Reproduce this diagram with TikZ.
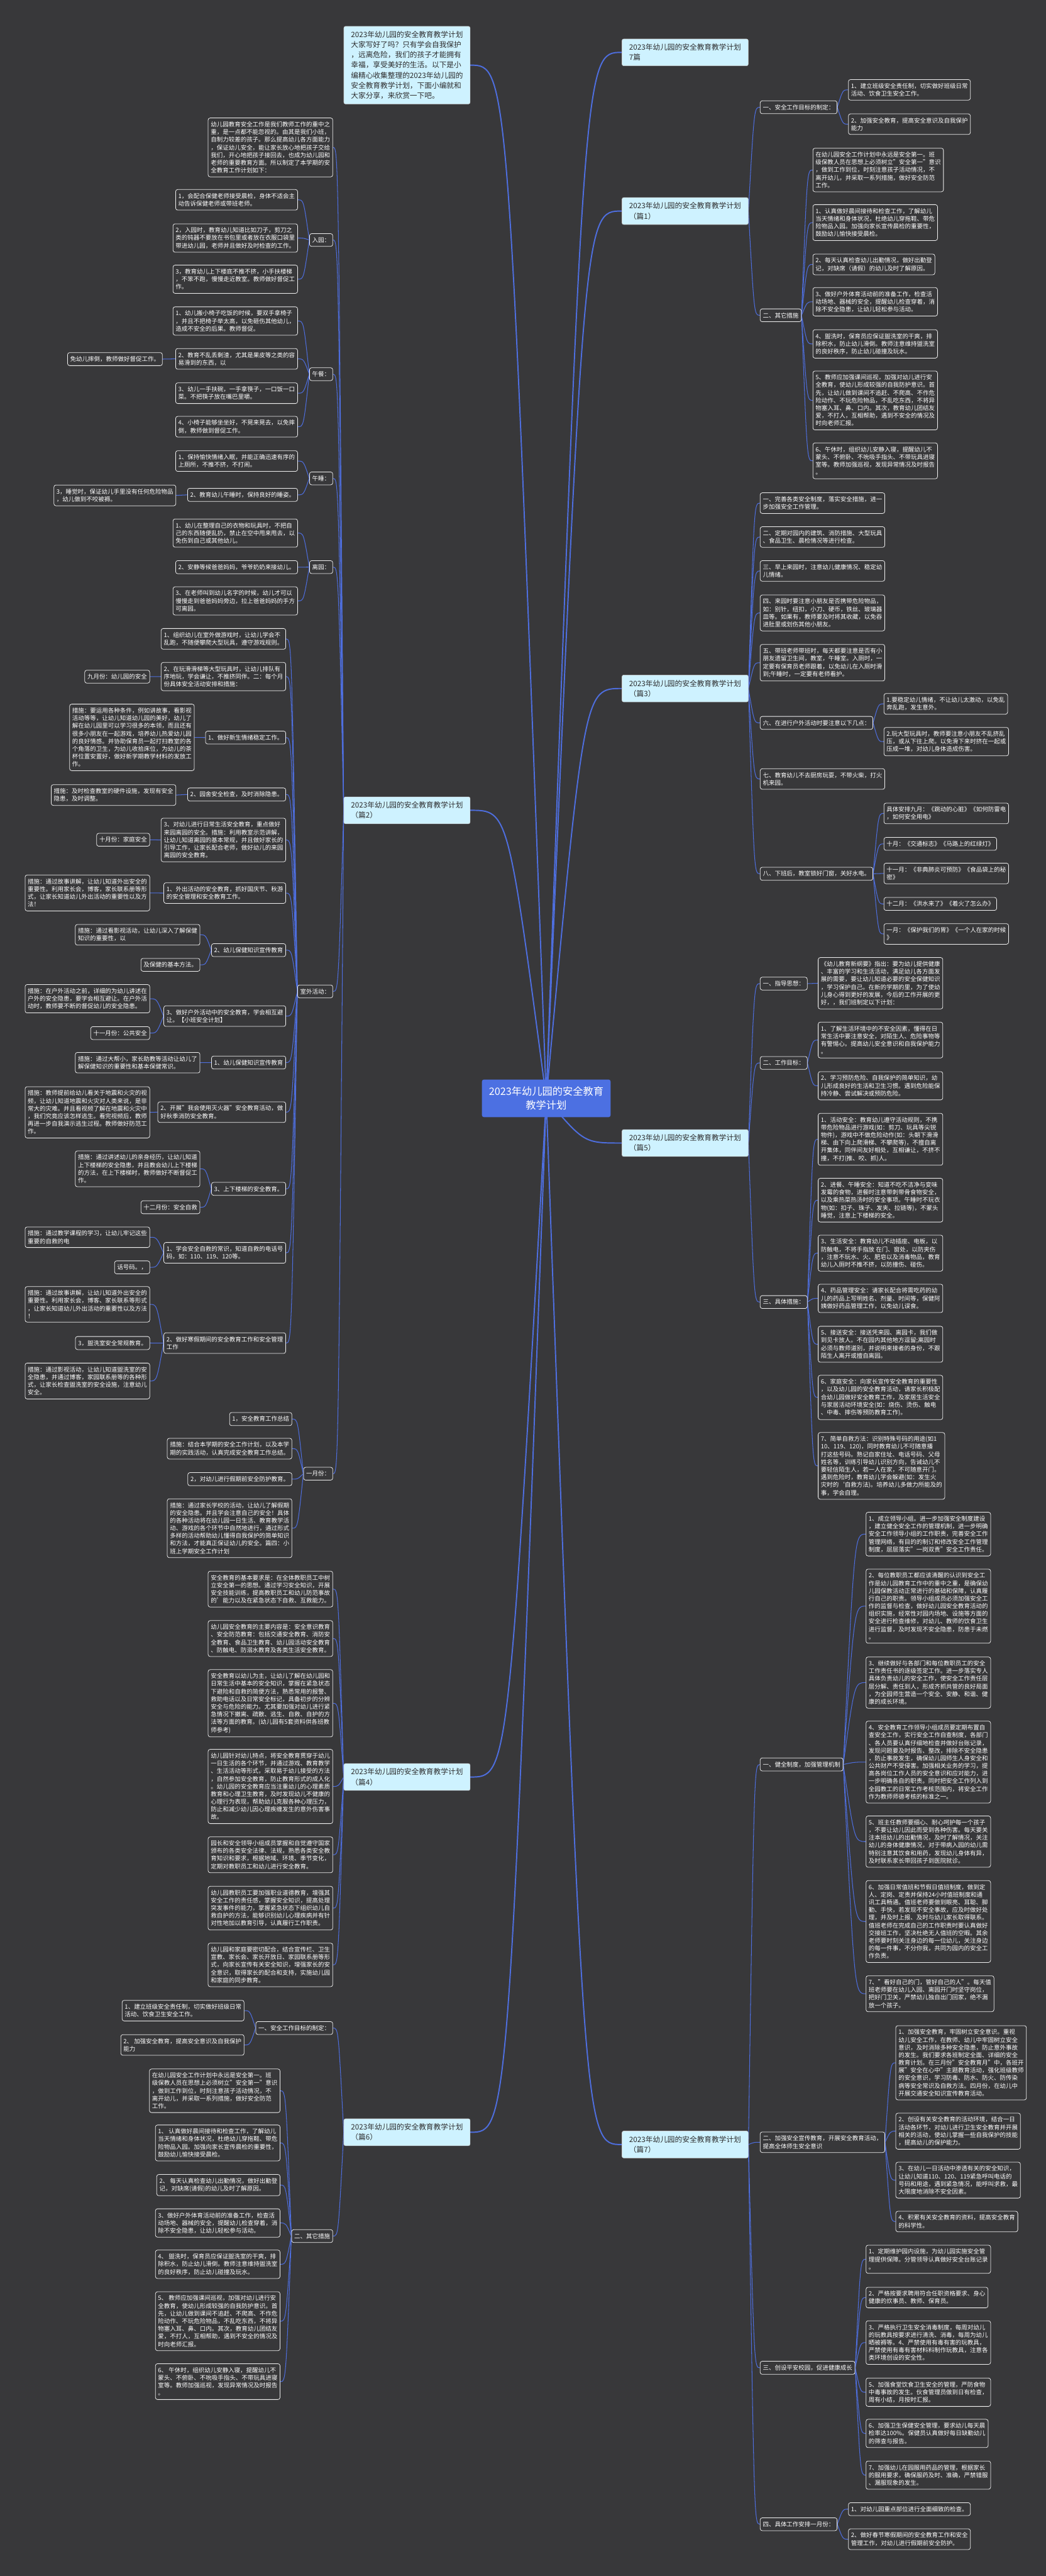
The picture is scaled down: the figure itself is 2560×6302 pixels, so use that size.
\documentclass[tikz,border=0pt]{standalone}
\usepackage{fontspec}
\setmainfont{Noto Sans CJK SC}
\usetikzlibrary{calc,backgrounds}
\definecolor{bgc}{RGB}{56,56,58}
\definecolor{lnc}{RGB}{78,110,222}
\definecolor{rootc}{RGB}{76,112,226}
\definecolor{pianc}{RGB}{206,242,255}
\definecolor{piant}{RGB}{45,45,45}
\begin{document}
\begin{tikzpicture}[x=0.5pt, y=-0.5pt,
        root/.style={fill=rootc, text=white, rounded corners=2.5pt, align=center,
                     font=\fontsize{12.5}{16.75}\selectfont, minimum width=157.5pt, minimum height=46pt},
        pian/.style={fill=pianc, draw=white!60!gray, line width=0.4pt, text=piant, rounded corners=2pt,
                     align=left, font=\fontsize{9}{12.4}\selectfont, inner xsep=4.5pt, inner ysep=6pt,
                     minimum width=154.5pt},
        leaf/.style={draw=white!88!gray, line width=0.6pt, fill=bgc, text=white, rounded corners=2.5pt,
                     align=left, font=\fontsize{7.3}{9.375}\selectfont, inner xsep=3.25pt, inner ysep=4.5pt},
        rl/.style={leaf, anchor=north west},
        ll/.style={leaf, anchor=north east},
        trunk/.style={lnc, line width=1.5pt},
        lk/.style={lnc, line width=0.8pt}
    ]
    \useasboundingbox (0,0) rectangle (2560,6302);

    % 中心主题
    \node[root] (plan) at (1337,2687) {2023年幼儿园的安全教育\\教学计划};

    % 第一层
    \node[pian, anchor=north east] (intro) at (1151,64) {2023年幼儿园的安全教育教学计划\\大家写好了吗？只有学会自我保护\\，远离危险，我们的孩子才能拥有\\幸福，享受美好的生活。以下是小\\编精心收集整理的2023年幼儿园的\\安全教育教学计划，下面小编就和\\大家分享，来欣赏一下吧。};
    \node[pian, anchor=north west] (total) at (1522,95) {2023年幼儿园的安全教育教学计划\\7篇};
    \node[pian, anchor=north west] (p1) at (1522,483) {2023年幼儿园的安全教育教学计划\\（篇1）};
    \node[pian, anchor=north east] (p2) at (1151,1949) {2023年幼儿园的安全教育教学计划\\（篇2）};
    \node[pian, anchor=north west] (p3) at (1522,1651) {2023年幼儿园的安全教育教学计划\\（篇3）};
    \node[pian, anchor=north east] (p4) at (1151,4314) {2023年幼儿园的安全教育教学计划\\（篇4）};
    \node[pian, anchor=north west] (p5) at (1522,2763) {2023年幼儿园的安全教育教学计划\\（篇5）};
    \node[pian, anchor=north east] (p6) at (1151,5183) {2023年幼儿园的安全教育教学计划\\（篇6）};
    \node[pian, anchor=north west] (p7) at (1522,5213) {2023年幼儿园的安全教育教学计划\\（篇7）};

    % 篇1
    \node[rl] (p1g) at (1860,246) {一、安全工作目标的制定：};
    \node[rl] (p1g1) at (2076,194) {1、建立班级安全责任制，切实做好班级日常\\活动、饮食卫生安全工作。};
    \node[rl] (p1g2) at (2076,278) {2、加强安全教育，提高安全意识及自我保护\\能力};
    \node[rl] (p1m) at (1860,755) {二、其它措施};
    \node[rl] (p1m0) at (1989,362) {在幼儿园安全工作计划中永远是安全第一。班\\级保教人员在思想上必须树立"安全第一"意识\\，做到工作到位，时刻注意孩子活动情况，不\\离开幼儿，并采取一系列措施，做好安全防范\\工作。};
    \node[rl] (p1m1) at (1989,500) {1、认真做好晨间接待和检查工作，了解幼儿\\当天情绪和身体状况，杜绝幼儿穿拖鞋、带危\\险物品入园。加强向家长宣传晨检的重要性，\\鼓励幼儿愉快接受晨检。};
    \node[rl] (p1m2) at (1989,621) {2、每天认真检查幼儿出勤情况，做好出勤登\\记，对缺席（请假）的幼儿及时了解原因。};
    \node[rl] (p1m3) at (1989,703) {3、做好户外体育活动前的准备工作，检查活\\动场地、器械的安全，提醒幼儿检查穿着，消\\除不安全隐患，让幼儿轻松参与活动。};
    \node[rl] (p1m4) at (1989,806) {4、盥洗时，保育员应保证盥洗室的干爽，排\\除积水，防止幼儿滑倒。教师注意维持盥洗室\\的良好秩序，防止幼儿碰撞及玩水。};
    \node[rl] (p1m5) at (1989,907) {5、教师应加强课间巡视，加强对幼儿进行安\\全教育，使幼儿形成较强的自我防护意识。首\\先，让幼儿做到课间不追赶、不爬高、不作危\\险动作、不玩危险物品，不乱吃东西，不将异\\物塞入耳、鼻、口内。其次，教育幼儿团结友\\爱，不打人，互相帮助，遇到不安全的情况及\\时向老师汇报。};
    \node[rl] (p1m6) at (1989,1083) {6、午休时，组织幼儿安静入寝，提醒幼儿不\\蒙头、不俯卧、不吮吸手指头、不带玩具进寝\\室等。教师加强巡视，发现异常情况及时报告\\。};

    % 篇2
    \node[ll] (p2a) at (815,288) {幼儿园教育安全工作是我们教师工作的重中之\\重，是一点都不能忽视的。由其是我们小班，\\自制力较差的孩子。那么提高幼儿各方面能力\\，保证幼儿安全，能让家长放心地把孩子交给\\我们，开心地把孩子接回去，也成为幼儿园和\\老师的重要教育方面。所以制定了本学期的安\\全教育工作计划如下：};
    \node[ll] (p2b) at (815,571) {入园：};
    \node[ll] (p2b1) at (729,463) {1，会配合保健老师接受晨检，身体不适会主\\动告诉保健老师或带班老师。};
    \node[ll] (p2b2) at (729,547) {2，入园时，教育幼儿知道比如刀子，剪刀之\\类的钝器不要放在书包里或者放在衣服口袋里\\带进幼儿园，老师并且做好及时检查的工作。};
    \node[ll] (p2b3) at (729,648) {3，教育幼儿上下楼底不推不挤，小手扶楼梯\\，不笨不跑，慢慢走近教室。教师做好督促工\\作。};
    \node[ll] (p2c) at (815,899) {午餐：};
    \node[ll] (p2c1) at (729,750) {1、幼儿搬小椅子吃饭的时候，要双手拿椅子\\，并且不把椅子举太高，以免砸伤其他幼儿，\\造成不安全的后果。教师督促。};
    \node[ll] (p2c2) at (729,852) {2、教育不乱丢剩渣，尤其是果皮等之类的容\\易滑到的东西，以};
    \node[ll] (p2c2x) at (398,862) {免幼儿摔倒，教师做好督促工作。};
    \node[ll] (p2c3) at (729,936) {3、幼儿一手扶碗，一手拿筷子，一口饭一口\\菜。不把筷子放在嘴巴里嚼。};
    \node[ll] (p2c4) at (729,1018) {4、小椅子能够坐坐好，不晃来晃去，以免摔\\倒，教师做到督促工作。};
    \node[ll] (p2d) at (815,1154) {午睡：};
    \node[ll] (p2d1) at (729,1102) {1、保持愉快情绪入眠，并能正确迅速有序的\\上厕所，不推不挤，不打闹。};
    \node[ll] (p2d2) at (729,1194) {2、教育幼儿午睡时，保持良好的睡姿。};
    \node[ll] (p2d2x) at (431,1186) {3，睡觉时，保证幼儿手里没有任何危险物品\\，幼儿做到不咬被褥。};
    \node[ll] (p2e) at (815,1371) {离园：};
    \node[ll] (p2e1) at (729,1269) {1、幼儿在整理自己的衣物和玩具时，不把自\\己的东西随便乱扔，禁止在空中甩来甩去，以\\免伤到自己或其他幼儿。};
    \node[ll] (p2e2) at (729,1371) {2、安静等候爸爸妈妈，爷爷奶奶来接幼儿。};
    \node[ll] (p2e3) at (729,1435) {3、在老师叫到幼儿名字的时候，幼儿才可以\\慢慢走到爸爸妈妈旁边，拉上爸爸妈妈的手方\\可离园。};
    \node[ll] (p2f) at (815,2409) {室外活动：};
    \node[ll] (f1) at (700,1537) {1、组织幼儿在室外做游戏时，让幼儿学会不\\乱跑，不随便攀爬大型玩具，遵守游戏规则。};
    \node[ll] (f2) at (700,1620) {2、在玩滑滑梯等大型玩具时，让幼儿排队有\\序地玩，学会谦让，不推挤同伴。二：每个月\\份具体安全活动安排和措施：};
    \node[ll] (f2x) at (367,1639) {九月份：幼儿园的安全};
    \node[ll] (f3) at (700,1788) {1、做好新生情绪稳定工作。};
    \node[ll] (f3x) at (476,1722) {措施：要运用各种条件，例如讲故事，看影视\\活动等等，让幼儿知道幼儿园的美好，幼儿了\\解在幼儿园里可以学习很多的本领，而且还有\\很多小朋友在一起游戏，培养幼儿热爱幼儿园\\的良好情感。并协助保育员一起打扫教室的各\\个角落的卫生，为幼儿收拾床位，为幼儿的茶\\杯位置安置好，做好新学期教学材料的发放工\\作。};
    \node[ll] (f4) at (700,1927) {2、园舍安全检查，及时消除隐患。};
    \node[ll] (f4x) at (431,1919) {措施：及时检查教室的硬件设施，发现有安全\\隐患，及时调整。};
    \node[ll] (f5) at (700,2001) {3、对幼儿进行日常生活安全教育，重点做好\\来园离园的安全。措施：利用教室示范讲解，\\让幼儿知道离园的基本常规，并且做好家长的\\引导工作，让家长配合老师，做好幼儿的来园\\离园的安全教育。};
    \node[ll] (f5x) at (367,2038) {十月份：家庭安全};
    \node[ll] (f6) at (700,2159) {1、外出活动的安全教育，抓好国庆节、秋游\\的安全管理和安全教育工作。};
    \node[ll] (f6x) at (367,2140) {措施：通过故事讲解，让幼儿知道外出安全的\\重要性。利用家长会，博客，家长联系册等形\\式，让家长知道幼儿外出活动的重要性以及方\\法！};
    \node[ll] (f7) at (700,2308) {2、幼儿保健知识宣传教育};
    \node[ll] (f7x) at (490,2261) {措施：通过看影视活动，让幼儿深入了解保健\\知识的重要性，以};
    \node[ll] (f7y) at (490,2344) {及保健的基本方法。};
    \node[ll] (f8) at (700,2460) {3、做好户外活动中的安全教育，学会相互避\\让。【小班安全计划】};
    \node[ll] (f8x) at (367,2408) {措施：在户外活动之前，详细的为幼儿讲述在\\户外的安全隐患，要学会相互避让。在户外活\\动时，教师要不断的督促幼儿的安全隐患。};
    \node[ll] (f8y) at (367,2511) {十一月份：公共安全};
    \node[ll] (f9) at (700,2583) {1、幼儿保健知识宣传教育};
    \node[ll] (f9x) at (490,2574) {措施：通过大帮小，家长助教等活动让幼儿了\\解保健知识的重要性和基本保健常识。};
    \node[ll] (f10) at (700,2695) {2、开展"我会使用灭火器"安全教育活动，做\\好秋季消防安全教育。};
    \node[ll] (f10x) at (367,2658) {措施：教师提前给幼儿看关于地震和火灾的视\\频，让幼儿知道地震和火灾对人类来说，是非\\常大的灾难。并且看视频了解在地震和火灾中\\，我们究竟应该怎样逃生。看完视频后，教师\\再进一步自我演示逃生过程。教师做好防范工\\作。};
    \node[ll] (f11) at (700,2892) {3、上下楼梯的安全教育。};
    \node[ll] (f11x) at (490,2815) {措施：通过讲述幼儿的亲身经历，让幼儿知道\\上下楼梯的安全隐患，并且教会幼儿上下楼梯\\的方法，在上下楼梯时，教师做好不断督促工\\作。};
    \node[ll] (f11y) at (490,2937) {十二月份：安全自救};
    \node[ll] (f12) at (700,3039) {1、学会安全自救的常识，知道自救的电话号\\码，如：110、119、120等。};
    \node[ll] (f12x) at (367,3001) {措施：通过教学课程的学习，让幼儿牢记这些\\重要的自救的电};
    \node[ll] (f12y) at (367,3084) {话号码。，};
    \node[ll] (f13) at (700,3260) {2、做好寒假期间的安全教育工作和安全管理\\工作};
    \node[ll] (f13x) at (367,3147) {措施：通过故事讲解，让幼儿知道外出安全的\\重要性。利用家长会，博客、家长联系等形式\\，让家长知道幼儿外出活动的重要性以及方法\\！};
    \node[ll] (f13y) at (367,3269) {3，盥洗室安全常规教育。};
    \node[ll] (f13z) at (367,3334) {措施：通过影视活动，让幼儿知道盥洗室的安\\全隐患，并通过博客，家园联系册等的各种形\\式，让家长检查盥洗室的安全设施，注意幼儿\\安全。};
    \node[ll] (p2g) at (815,3589) {一月份：};
    \node[ll] (g1) at (715,3455) {1，安全教育工作总结};
    \node[ll] (g2) at (715,3518) {措施：结合本学期的安全工作计划，以及本学\\期的实践活动，认真完成安全教育工作总结。};
    \node[ll] (g3) at (715,3602) {2，对幼儿进行假期前安全防护教育。};
    \node[ll] (g4) at (715,3666) {措施：通过家长学校的活动，让幼儿了解假期\\的安全隐患。并且学会注意自己的安全！具体\\的各种活动将在幼儿园一日生活、教育教学活\\动、游戏的各个环节中自然地进行，通过形式\\多样的活动帮助幼儿懂得自我保护的简单知识\\和方法，才能真正保证幼儿的安全。篇四：小\\班上学期安全工作计划};

    % 篇3
    \node[rl] (p3a) at (1860,1205) {一、完善各类安全制度，落实安全措施，进一\\步加强安全工作管理。};
    \node[rl] (p3b) at (1860,1288) {二、定期对园内的建筑、消防措施、大型玩具\\、食品卫生、晨检情况等进行检查。};
    \node[rl] (p3c) at (1860,1371) {三、早上来园时，注意幼儿健康情况、稳定幼\\儿情绪。};
    \node[rl] (p3d) at (1860,1455) {四、来园时要注意小朋友是否携带危险物品，\\如：别针，纽扣，小刀、硬币，铁丝、玻璃器\\皿等。如果有，教师要及时将其收藏，以免吞\\进肚里或划伤其他小朋友。};
    \node[rl] (p3e) at (1860,1576) {五、带班老师带班时，每天都要注意是否有小\\朋友遗留卫生间，教室，午睡室。入厕时，一\\定要有保育员老师跟着，以免幼儿在入厕时滑\\到;午睡时，一定要有老师看护。};
    \node[rl] (p3f) at (1860,1752) {六、在进行户外活动时要注意以下几点：};
    \node[rl] (p3f1) at (2163,1696) {1.要稳定幼儿情绪，不让幼儿太激动，以免乱\\奔乱跑，发生意外。};
    \node[rl] (p3f2) at (2163,1779) {2.玩大型玩具时，教师要注意小朋友不乱挤乱\\压，或从下往上爬。以免滑下来时挤在一起或\\压成一堆，对幼儿身体造成伤害。};
    \node[rl] (p3g) at (1860,1880) {七、教育幼儿不去厨房玩耍，不带火柴，打火\\机来园。};
    \node[rl] (p3h) at (1860,2121) {八、下班后，教室锁好门窗，关好水电。};
    \node[rl] (p3h1) at (2163,1964) {具体安排九月：《跳动的心脏》《如何防雷电\\，如何安全用电》};
    \node[rl] (p3h2) at (2163,2048) {十月：《交通标志》《马路上的红绿灯》};
    \node[rl] (p3h3) at (2163,2111) {十一月：《非典肺炎可预防》《食品袋上的秘\\密》};
    \node[rl] (p3h4) at (2163,2195) {十二月：《洪水来了》《着火了怎么办》};
    \node[rl] (p3h5) at (2163,2259) {一月：《保护我们的胃》《一个人在家的时候\\》};

    % 篇4
    \node[ll] (p4a) at (815,3843) {安全教育的基本要求是：在全体教职员工中树\\立安全第一的思想。通过学习安全知识，开展\\安全技能训练，提高教职员工和幼儿防范事故\\的'能力以及在紧急状态下自救、互救能力。};
    \node[ll] (p4b) at (815,3964) {幼儿园安全教育的主要内容是：安全意识教育\\、安全防范教育：包括交通安全教育、消防安\\全教育、食品卫生教育、幼儿园活动安全教育\\、防触电、防溺水教育及各类生活安全教育。};
    \node[ll] (p4c) at (815,4084) {安全教育以幼儿为主，让幼儿了解在幼儿园和\\日常生活中基本的安全知识，掌握在紧急状态\\下避险和自救的简便方法，熟悉常用的报警、\\救助电话以及日常安全标记，具备初步的分辨\\安全与危险的能力。尤其要加强对幼儿进行紧\\急情况下撤离、疏散、逃生、自救、自护的方\\法等方面的教育。(幼儿园有5套资料供各班教\\师参考)};
    \node[ll] (p4d) at (815,4279) {幼儿园针对幼儿特点，将安全教育贯穿于幼儿\\一日生活的各个环节，并通过游戏、教育教学\\、生活活动等形式，采取易于幼儿接受的方法\\，自然参加安全教育，防止教育形式的成人化\\。幼儿园的安全教育应当注重幼儿的心理素质\\教育和心理卫生教育，及时发现幼儿不健康的\\心理行为表现，帮助幼儿克服各种心理压力，\\防止和减少幼儿因心理疾缠发生的意外伤害事\\故。};
    \node[ll] (p4e) at (815,4493) {园长和安全领导小组成员掌握和自觉遵守国家\\颁布的各类安全法律、法规，熟悉各类安全教\\育知识和要求，根据地域、环境、季节变化，\\定期对教职员工和幼儿进行安全教育。};
    \node[ll] (p4f) at (815,4614) {幼儿园教职员工要加强职业道德教育，增强其\\安全工作的责任感，掌握安全知识，提高处理\\突发事件的能力，掌握紧急状态下组织幼儿自\\救自护的方法，能够识别幼儿心理疾病并有针\\对性地加以教育引导，认真履行工作职责。};
    \node[ll] (p4g) at (815,4753) {幼儿园和家庭要密切配合，结合宣传栏、卫生\\宣教、家长会、家长开放日、家园联系册等形\\式，向家长宣传有关安全知识，增强家长的安\\全意识，取得家长的配合和支持，实施幼儿园\\和家庭的同步教育。};

    % 篇5
    \node[rl] (p5a) at (1860,2390) {一、指导思想：};
    \node[rl] (p5a1) at (2002,2342) {《幼儿教育新纲要》指出：要为幼儿提供健康\\、丰富的学习和生活活动，满足幼儿各方面发\\展的需要，要让幼儿知道必要的安全保健知识\\，学习保护自己。在新的学期的里，为了使幼\\儿身心得到更好的发展，今后的工作开展的更\\好，，我们班制定以下计划：};
    \node[rl] (p5b) at (1860,2584) {二、工作目标：};
    \node[rl] (p5b1) at (2002,2500) {1、了解生活环境中的不安全因素，懂得在日\\常生活中要注意安全，对陌生人、危险事物等\\有警惕心。提高幼儿安全意识和自我保护能力\\。};
    \node[rl] (p5b2) at (2002,2621) {2、学习预防危险、自我保护的简单知识，幼\\儿形成良好的生活和卫生习惯。遇到危险能保\\持冷静、尝试解决或预防危险。};
    \node[rl] (p5c) at (1860,3169) {三、具体措施：};
    \node[rl] (p5c1) at (2002,2723) {1、活动安全：教育幼儿遵守活动规则，不携\\带危险物品进行游戏(如：剪刀、玩具等尖锐\\物件)，游戏中不做危险动作(如：头朝下滑滑\\梯、由下向上爬滑梯、不攀爬等)，不擅自离\\开集体，同伴间友好相处，互相谦让，不挤不\\撞，不打(推、咬、抓)人。};
    \node[rl] (p5c2) at (2002,2882) {2、进餐、午睡安全：知道不吃不洁净与变味\\发霉的食物，进餐时注意带刺带骨食物安全，\\以及乘热菜热汤时的安全事项。午睡时不玩衣\\物(如：扣子、珠子、发夹、拉链等)，不蒙头\\睡觉，注意上下楼梯的安全。};
    \node[rl] (p5c3) at (2002,3021) {3、生活安全：教育幼儿不动插座、电板，以\\防触电，不将手指放 在门、窗处，以防夹伤\\，注意不玩水、火、肥皂以及消毒物品，教育\\幼儿入厕时不推不挤，以防撞伤、碰伤。};
    \node[rl] (p5c4) at (2002,3141) {4、药品管理安全：请家长配合将需吃药的幼\\儿的药品上写明姓名、剂量、时间等，保健阿\\姨做好药品管理工作，以免幼儿误食。};
    \node[rl] (p5c5) at (2002,3244) {5、接送安全：接送凭来园、离园卡，我们做\\到见卡放人。不在园内其他地方逗留;离园时\\必须与教师道别，并说明来接者的身份，不跟\\陌生人离开或擅自离园。};
    \node[rl] (p5c6) at (2002,3364) {6、家庭安全：向家长宣传安全教育的重要性\\，以及幼儿园的安全教育活动，请家长积极配\\合幼儿园做好安全教育工作，及家居生活安全\\与家居活动环境安全(如：烧伤、烫伤、触电\\、中毒、摔伤等预防教育工作)。};
    \node[rl] (p5c7) at (2002,3504) {7、简单自救方法：识别特殊号码的用途(如1\\10、119、120)，同时教育幼儿不可随意播\\打这些号码。熟记自家住址、电话号码、父母\\姓名等，训练引导幼儿识别方向，告诫幼儿不\\要轻信陌生人，若一人在家，不可随意开门。\\遇到危险时，教育幼儿学会躲避(如：发生火\\灾时的`自救方法)。培养幼儿多做力所能及的\\事，学会自理。};

    % 篇6
    \node[ll] (p6a) at (815,4945) {一、安全工作目标的制定：};
    \node[ll] (p6a1) at (598,4893) {1、建立班级安全责任制，切实做好班级日常\\活动、饮食卫生安全工作。};
    \node[ll] (p6a2) at (598,4977) {2、 加强安全教育，提高安全意识及自我保护\\能力};
    \node[ll] (p6b) at (815,5454) {二、其它措施};
    \node[ll] (p6b0) at (686,5061) {在幼儿园安全工作计划中永远是安全第一。班\\级保教人员在思想上必须树立"安全第一"意识\\，做到工作到位，时刻注意孩子活动情况，不\\离开幼儿，并采取一系列措施，做好安全防范\\工作。};
    \node[ll] (p6b1) at (686,5198) {1、 认真做好晨间接待和检查工作，了解幼儿\\当天情绪和身体状况，杜绝幼儿穿拖鞋、带危\\险物品入园。加强向家长宣传晨检的重要性，\\鼓励幼儿愉快接受晨检。};
    \node[ll] (p6b2) at (686,5319) {2、 每天认真检查幼儿出勤情况，做好出勤登\\记，对缺席(请假)的幼儿及时了解原因。};
    \node[ll] (p6b3) at (686,5403) {3、做好户外体育活动前的准备工作，检查活\\动场地、器械的安全，提醒幼儿检查穿着，消\\除不安全隐患，让幼儿轻松参与活动。};
    \node[ll] (p6b4) at (686,5504) {4、 盥洗时，保育员应保证盥洗室的干爽，排\\除积水，防止幼儿滑倒。教师注意维持盥洗室\\的良好秩序，防止幼儿碰撞及玩水。};
    \node[ll] (p6b5) at (686,5606) {5、 教师应加强课间巡视，加强对幼儿进行安\\全教育，使幼儿形成较强的自我防护意识。首\\先，让幼儿做到课间不追赶、不爬高、不作危\\险动作、不玩危险物品，不乱吃东西，不将异\\物塞入耳、鼻、口内。其次，教育幼儿团结友\\爱，不打人，互相帮助，遇到不安全的情况及\\时向老师汇报。};
    \node[ll] (p6b6) at (686,5782) {6、 午休时，组织幼儿安静入寝，提醒幼儿不\\蒙头、不俯卧、不吮吸手指头、不带玩具进寝\\室等。教师加强巡视，发现异常情况及时报告\\。};

    % 篇7
    \node[rl] (p7a) at (1860,4300) {一、健全制度，加强管理机制};
    \node[rl] (p7a1) at (2119,3699) {1、成立领导小组。进一步加强安全制度建设\\，建立健全安全工作的管理机制，进一步明确\\安全工作领导小组的工作职责，完善安全工作\\管理网络，有目的的制订和修改安全工作管理\\制度，层层落实"一岗双责"安全工作责任。};
    \node[rl] (p7a2) at (2119,3838) {2、每位教职员工都应该清醒的认识到安全工\\作是幼儿园教育工作中的重中之重，是确保幼\\儿园保教活动正常进行的基础和保障，认真履\\行自己的职责。领导小组成员必须加强安全工\\作的监督与检查，做好幼儿园安全教育活动的\\组织实施，经常性对园内场地、设施等方面的\\安全进行检查维修，对幼儿、教师的饮食卫生\\进行监督，及时发现不安全隐患，防患于未燃\\。};
    \node[rl] (p7a3) at (2119,4053) {3、继续做好与各部门和每位教职员工的安全\\工作责任书的逐级签定工作。进一步落实专人\\具体负责幼儿的安全工作，使安全工作责任层\\层分解、责任到人，形成齐抓共管的良好局面\\，为全园师生营造一个安全、安静、和谐、健\\康的成长环境。};
    \node[rl] (p7a4) at (2119,4210) {4、安全教育工作领导小组成员要定期布置自\\查安全工作，实行安全工作自查制度，各部门\\、各人员要认真仔细地检查并做好台账记录，\\发现问题要及时报告、整改，排除不安全隐患\\，防止事故发生，确保幼儿园师生人身安全和\\公共财产不受侵害。加强相关业务的学习，提\\高各岗位工作人员的安全意识和应对能力，进\\一步明确各自的职责。同时把安全工作列入到\\全园教工的日常工作考核范围内，将安全工作\\作为教师师德考核的标准之一。};
    \node[rl] (p7a5) at (2119,4442) {5、班主任教师要细心、耐心呵护每一个孩子\\，不要让幼儿因此而受到各种伤害。每天要关\\注本班幼儿的出勤情况，及时了解情况，关注\\幼儿的身体健康情况，对于带病入园的幼儿需\\特别注意其饮食和用药，发现幼儿身体有异，\\及时联系家长带回孩子到医院就诊。};
    \node[rl] (p7a6) at (2119,4600) {6、加强日常值班和节假日值班制度，做到定\\人、定岗、定责并保持24小时值班制度和通\\讯工具畅通。值班老师要做到眼亮、耳聪、脚\\勤、手快，若发现不安全事故，应及时做好处\\理，并及时上报、及时与幼儿家长取得联系。\\值班老师在完成自己的工作职责时要认真做好\\交接班工作，坚决杜绝无人值班的空暇。其余\\老师要时刻关注身边的每一位幼儿，关注身边\\的每一件事，不分你我，共同为园内的安全工\\作负责。};
    \node[rl] (p7a7) at (2119,4833) {7、"看好自己的门，管好自己的人"。每天值\\班老师要在幼儿入园、离园开门时坚守岗位，\\把好门卫关，严禁幼儿独自出门回家，绝不漏\\放一个孩子。};
    \node[rl] (p7b) at (1860,5215) {二、加强安全宣传教育，开展安全教育活动，\\提高全体师生安全意识};
    \node[rl] (p7b1) at (2192,4955) {1、加强安全教育，牢固树立安全意识。重视\\幼儿安全工作，在教师、幼儿中牢固树立安全\\意识，及时消除多种安全隐患，防止意外事故\\的发生。我们要求各班制定全面、详细的安全\\教育计划。在三月份"安全教育月"中，各班开\\展"安全在心中"主题教育活动，强化班级教师\\的安全意识，学习防毒、防水、防火、防传染\\病等安全常识及自救方法。四月份，在幼儿中\\开展交通安全知识宣传教育活动。};
    \node[rl] (p7b2) at (2192,5169) {2、创设有关安全教育的活动环境，结合一日\\活动各环节，对幼儿进行卫生安全教育并开展\\相关的活动，使幼儿掌握一些自我保护的技能\\，提高幼儿的保护能力。};
    \node[rl] (p7b3) at (2192,5289) {3、在幼儿一日活动中渗透有关的安全知识，\\让幼儿知道110、120、119紧急呼叫电话的\\号码和用途，遇到紧急情况，能呼叫求救，最\\大限度地消除不安全因素。};
    \node[rl] (p7b4) at (2192,5409) {4、积累有关安全教育的资料，提高安全教育\\的科学性。};
    \node[rl] (p7c) at (1860,5776) {三、创设平安校园，促进健康成长};
    \node[rl] (p7c1) at (2119,5492) {1、定期维护园内设施，为幼儿园实施安全管\\理提供保障。分管领导认真做好安全台账记录\\。};
    \node[rl] (p7c2) at (2119,5595) {2、严格按要求聘用符合任职资格要求、身心\\健康的炊事员、教师、保育员。};
    \node[rl] (p7c3) at (2119,5677) {3、严格执行卫生安全消毒制度，每周对幼儿\\的玩教具按要求进行清洗、消毒，每周为幼儿\\晒被褥等。4、严禁使用有毒有害的玩教具，\\严禁使用有毒有害材料料制作玩教具，注意各\\类环境创设的安全性。};
    \node[rl] (p7c4) at (2119,5817) {5、加强食堂饮食卫生安全的管理，严防食物\\中毒事故的发生。伙食管理员做到日有检查，\\周有小结，月按时汇报。};
    \node[rl] (p7c5) at (2119,5918) {6、加强卫生保健安全管理，要求幼儿每天晨\\检率达100\%。保健员认真做好每日缺勤幼儿\\的筛查与报告。};
    \node[rl] (p7c6) at (2119,6020) {7、加强幼儿在园服用药品的管理，根据家长\\的服用要求，确保服药及时、准确，严禁错服\\、漏服现象的发生。};
    \node[rl] (p7d) at (1860,6159) {四、具体工作安排一月份：};
    \node[rl] (p7d1) at (2076,6122) {1、对幼儿园重点部位进行全面细致的检查。};
    \node[rl] (p7d2) at (2076,6186) {2、做好春节寒假期间的安全教育工作和安全\\管理工作，对幼儿进行假期前安全防护。};

    % 连线
    \begin{pgfonlayer}{background}
    \fill[bgc] (0,0) rectangle (2560,6302);
    \foreach \b in {total,p1,p3,p5,p7}
        \draw[trunk] (plan.center) .. controls ($(plan.center |- \b.west)!0.5!(\b.west)$) .. (\b.west);
    \foreach \b in {intro,p2,p4,p6}
        \draw[trunk] (plan.center) .. controls ($(plan.center |- \b.east)!0.5!(\b.east)$) .. (\b.east);
    \foreach \a/\b in {p1/p1g, p1/p1m, p1g/p1g1, p1g/p1g2, p1m/p1m0, p1m/p1m1, p1m/p1m2, p1m/p1m3,
            p1m/p1m4, p1m/p1m5, p1m/p1m6,
            p3/p3a, p3/p3b, p3/p3c, p3/p3d, p3/p3e, p3/p3f, p3/p3g, p3/p3h, p3f/p3f1, p3f/p3f2,
            p3h/p3h1, p3h/p3h2, p3h/p3h3, p3h/p3h4, p3h/p3h5,
            p5/p5a, p5/p5b, p5/p5c, p5a/p5a1, p5b/p5b1, p5b/p5b2, p5c/p5c1, p5c/p5c2, p5c/p5c3,
            p5c/p5c4, p5c/p5c5, p5c/p5c6, p5c/p5c7,
            p7/p7a, p7/p7b, p7/p7c, p7/p7d, p7a/p7a1, p7a/p7a2, p7a/p7a3, p7a/p7a4, p7a/p7a5,
            p7a/p7a6, p7a/p7a7, p7b/p7b1, p7b/p7b2, p7b/p7b3, p7b/p7b4, p7c/p7c1, p7c/p7c2,
            p7c/p7c3, p7c/p7c4, p7c/p7c5, p7c/p7c6, p7d/p7d1, p7d/p7d2}
        \draw[lk] (\a.east) .. controls ($(\a.east |- \b.west)!0.5!(\b.west)$) .. (\b.west);
    \foreach \a/\b in {p2/p2a, p2/p2b, p2/p2c, p2/p2d, p2/p2e, p2/p2f, p2/p2g,
            p2b/p2b1, p2b/p2b2, p2b/p2b3, p2c/p2c1, p2c/p2c2, p2c/p2c3, p2c/p2c4, p2c2/p2c2x,
            p2d/p2d1, p2d/p2d2, p2d2/p2d2x, p2e/p2e1, p2e/p2e2, p2e/p2e3,
            p2f/f1, p2f/f2, p2f/f3, p2f/f4, p2f/f5, p2f/f6, p2f/f7, p2f/f8, p2f/f9, p2f/f10,
            p2f/f11, p2f/f12, p2f/f13, f2/f2x, f3/f3x, f4/f4x, f5/f5x, f6/f6x, f7/f7x, f7/f7y,
            f8/f8x, f8/f8y, f9/f9x, f10/f10x, f11/f11x, f11/f11y, f12/f12x, f12/f12y,
            f13/f13x, f13/f13y, f13/f13z, p2g/g1, p2g/g2, p2g/g3, p2g/g4,
            p4/p4a, p4/p4b, p4/p4c, p4/p4d, p4/p4e, p4/p4f, p4/p4g,
            p6/p6a, p6/p6b, p6a/p6a1, p6a/p6a2, p6b/p6b0, p6b/p6b1, p6b/p6b2, p6b/p6b3,
            p6b/p6b4, p6b/p6b5, p6b/p6b6}
        \draw[lk] (\a.west) .. controls ($(\a.west |- \b.east)!0.5!(\b.east)$) .. (\b.east);
    \end{pgfonlayer}
\end{tikzpicture}
\end{document}
